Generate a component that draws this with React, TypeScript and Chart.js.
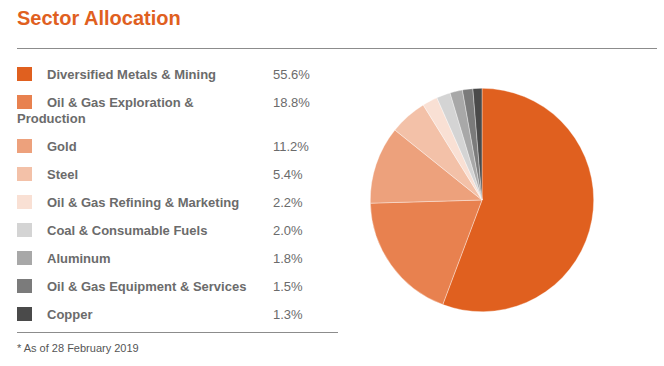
import React, { useEffect, useRef } from "react";
import { Chart, registerables } from "chart.js";

Chart.register(...registerables);

const sectors = [
  "Diversified Metals & Mining",
  "Oil & Gas Exploration & Production",
  "Gold",
  "Steel",
  "Oil & Gas Refining & Marketing",
  "Coal & Consumable Fuels",
  "Aluminum",
  "Oil & Gas Equipment & Services",
  "Copper",
];
const weights = [55.6, 18.8, 11.2, 5.4, 2.2, 2.0, 1.8, 1.5, 1.3];
const colors = [
  "#e0601f",
  "#e8814f",
  "#eda17c",
  "#f3c1a8",
  "#f9e0d4",
  "#d4d4d4",
  "#a8a8a8",
  "#7b7b7b",
  "#4a4a4a",
];
const title = "Sector Allocation";
const footnote = "* As of 28 February 2019";

const FONT = '"Liberation Sans", Arial, sans-serif';

export default function App() {
  const canvasRef = useRef<HTMLCanvasElement>(null);

  useEffect(() => {
    if (!canvasRef.current) return;
    const chart = new Chart(canvasRef.current, {
      type: "pie",
      data: {
        labels: sectors,
        datasets: [
          {
            data: weights,
            backgroundColor: colors,
            borderColor: "rgba(255,255,255,0.6)",
            borderWidth: 0.6,
          },
        ],
      },
      options: {
        animation: false,
        responsive: false,
        maintainAspectRatio: false,
        layout: { padding: 0 },
        plugins: {
          legend: { display: false },
          tooltip: { enabled: false },
        },
      },
    });
    return () => chart.destroy();
  }, []);

  return (
    <div
      style={{
        position: "fixed",
        left: 0,
        top: 0,
        width: 664,
        height: 366,
        background: "#fff",
        fontFamily: FONT,
        overflow: "hidden",
      }}
    >
      <div
        style={{
          position: "absolute",
          left: 17,
          top: 8,
          fontSize: 20,
          lineHeight: "20px",
          fontWeight: "bold",
          color: "#e0601f",
          whiteSpace: "nowrap",
        }}
      >
        {title}
      </div>
      <div
        style={{
          position: "absolute",
          left: 17,
          top: 48,
          width: 640,
          height: 1,
          background: "#8c8c8c",
        }}
      />
      <div style={{ position: "absolute", left: 17, top: 67, width: 321 }}>
        {sectors.map((s, i) => (
          <div
            key={s}
            style={{
              position: "relative",
              marginBottom: 12,
              fontSize: 13,
              lineHeight: "16px",
            }}
          >
            <div
              style={{
                position: "absolute",
                left: 0,
                top: 0,
                width: 15,
                height: 14,
                background: colors[i],
              }}
            />
            <div
              style={{
                width: 240,
                textIndent: 30,
                fontWeight: "bold",
                color: "#6b6b6b",
              }}
            >
              {s}
            </div>
            <div
              style={{
                position: "absolute",
                left: 256,
                top: 0,
                color: "#6b6b6b",
              }}
            >
              {weights[i].toFixed(1) + "%"}
            </div>
          </div>
        ))}
      </div>
      <div
        style={{
          position: "absolute",
          left: 17,
          top: 332,
          width: 321,
          height: 1,
          background: "#8c8c8c",
        }}
      />
      <div
        style={{
          position: "absolute",
          left: 17,
          top: 341,
          fontSize: 11,
          lineHeight: "14px",
          color: "#555",
          whiteSpace: "nowrap",
        }}
      >
        {footnote}
      </div>
      <canvas
        ref={canvasRef}
        width={224}
        height={224}
        style={{
          position: "absolute",
          left: 370,
          top: 88,
          width: 224,
          height: 224,
        }}
      />
    </div>
  );
}
